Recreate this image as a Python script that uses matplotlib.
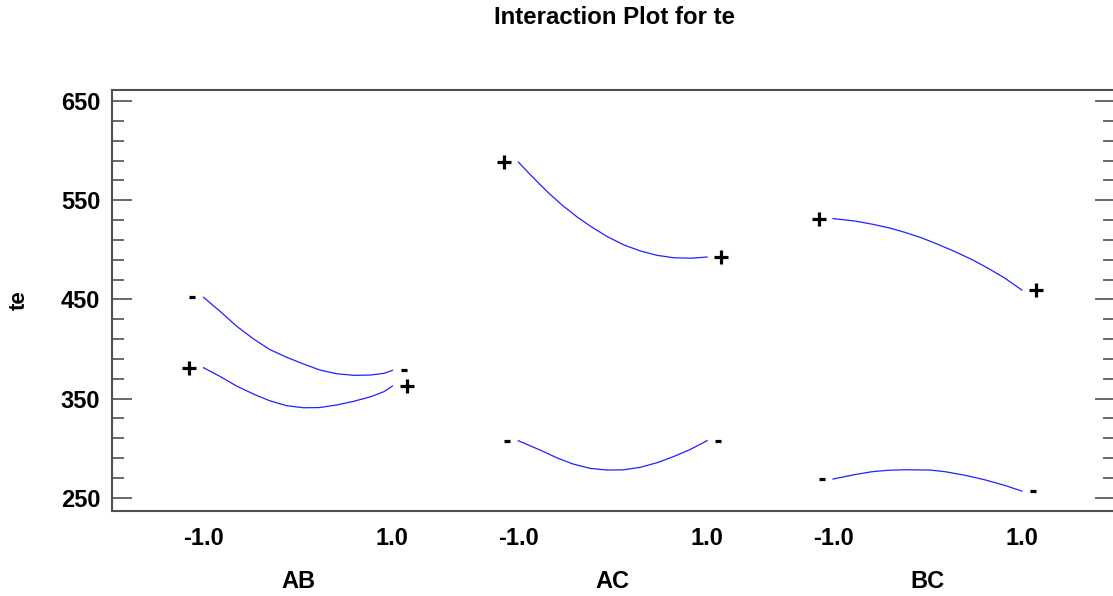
import matplotlib
matplotlib.use('Agg')
import matplotlib.pyplot as plt
import numpy as np

# interaction groups and their factor levels
groups = ['AB', 'AC', 'BC']
level_labels = ['-1.0', '1.0']
y_major = [250, 350, 450, 550, 650]

# fitted response: (level of first factor, te)
ab_minus_x = [-1.0, -0.82, -0.65, -0.47, -0.30, -0.12, 0.06, 0.23, 0.41, 0.59, 0.77, 0.91, 1.0]
ab_minus_y = [452.1, 437.5, 423.0, 410.0, 399.5, 391.6, 384.8, 378.8, 375.0, 373.4, 373.7, 375.4, 378.4]
ab_plus_x = [-1.0, -0.82, -0.65, -0.47, -0.30, -0.12, 0.06, 0.23, 0.41, 0.59, 0.77, 0.91, 1.0]
ab_plus_y = [381.1, 372.0, 362.6, 354.5, 347.8, 342.8, 340.7, 340.9, 343.5, 347.2, 351.8, 356.9, 362.6]

ac_plus_x = [-1.0, -0.88, -0.78, -0.67, -0.53, -0.38, -0.24, -0.06, 0.12, 0.29, 0.47, 0.65, 0.83, 1.0]
ac_plus_y = [588.5, 576.5, 566.8, 556.5, 544.6, 533.3, 524.0, 513.4, 504.8, 498.9, 494.4, 491.9, 491.5, 492.7]
ac_minus_x = [-1.0, -0.77, -0.59, -0.42, -0.24, -0.06, 0.11, 0.29, 0.47, 0.64, 0.82, 1.0]
ac_minus_y = [307.5, 298.1, 290.2, 284.0, 279.6, 277.9, 278.1, 280.6, 285.3, 291.3, 298.6, 307.5]

bc_plus_x = [-1.0, -0.77, -0.59, -0.41, -0.24, -0.06, 0.11, 0.29, 0.47, 0.64, 0.82, 1.0]
bc_plus_y = [531.5, 529.0, 525.9, 522.2, 517.6, 512.0, 505.5, 498.2, 490.2, 481.5, 471.4, 459.4]
bc_minus_x = [-1.0, -0.77, -0.59, -0.41, -0.24, 0.03, 0.19, 0.40, 0.61, 0.82, 1.0]
bc_minus_y = [268.8, 273.3, 276.2, 277.7, 278.2, 277.9, 276.2, 272.6, 268.0, 262.4, 256.7]

curves = [
    (0, ab_minus_x, ab_minus_y, '-'),
    (0, ab_plus_x, ab_plus_y, '+'),
    (1, ac_plus_x, ac_plus_y, '+'),
    (1, ac_minus_x, ac_minus_y, '-'),
    (2, bc_plus_x, bc_plus_y, '+'),
    (2, bc_minus_x, bc_minus_y, '-'),
]

plt.rcParams['font.family'] = ['Liberation Sans', 'DejaVu Sans']
plt.rcParams['font.weight'] = 'bold'

fig = plt.figure(figsize=(11.13, 5.96), dpi=100)
ax = fig.add_axes([0.1006, 0.1431, 0.9012, 0.7059])

half = 0.3  # half width of a group on the x axis

for g, xs, ys, sign in curves:
    px = [g + half * x for x in xs]
    ax.plot(px, ys, color='#2020ff', lw=0.9)
    off = 1.15 if sign == '+' else 1.12
    mk = '+' if sign == '+' else '_'
    ms = 9.5 if sign == '+' else 5
    ax.plot([g - half * off, g + half * off], [ys[0], ys[-1]], ls='none',
            marker=mk, ms=ms, mew=2.3, color='black')

ax.set_xlim(-0.591, 2.596)
ax.set_ylim(236.9, 661.1)

ax.set_yticks(y_major)
ax.set_yticks(np.arange(250, 651, 20), minor=True)
ax.tick_params(axis='y', which='both', direction='in', left=True, right=True,
               color='#404040', width=1.1, labelsize=17, pad=8.5)
ax.tick_params(axis='y', which='major', length=14.5)
ax.tick_params(axis='y', which='minor', length=8.6)

ax.set_xticks([])
trans = ax.get_xaxis_transform()
for g, name in enumerate(groups):
    ax.text(g - half, -0.065, level_labels[0], transform=trans, ha='center', va='center',
            fontsize=17, fontweight='bold')
    ax.text(g + half, -0.065, level_labels[1], transform=trans, ha='center', va='center',
            fontsize=17, fontweight='bold')
    ax.text(g, -0.169, name, transform=trans, ha='center', va='center',
            fontsize=17, fontweight='bold')

for sp in ax.spines.values():
    sp.set_color('#505050')
    sp.set_linewidth(1.5)

fig.text(615 / 1113, 1 - 17 / 596, 'Interaction Plot for te', ha='center', va='center',
         fontsize=17.3, fontweight='bold')
fig.text(19 / 1113, 1 - 300 / 596, 'te', rotation=90, ha='center', va='center',
         fontsize=16, fontweight='bold')

fig.savefig('out.png', dpi=100)
